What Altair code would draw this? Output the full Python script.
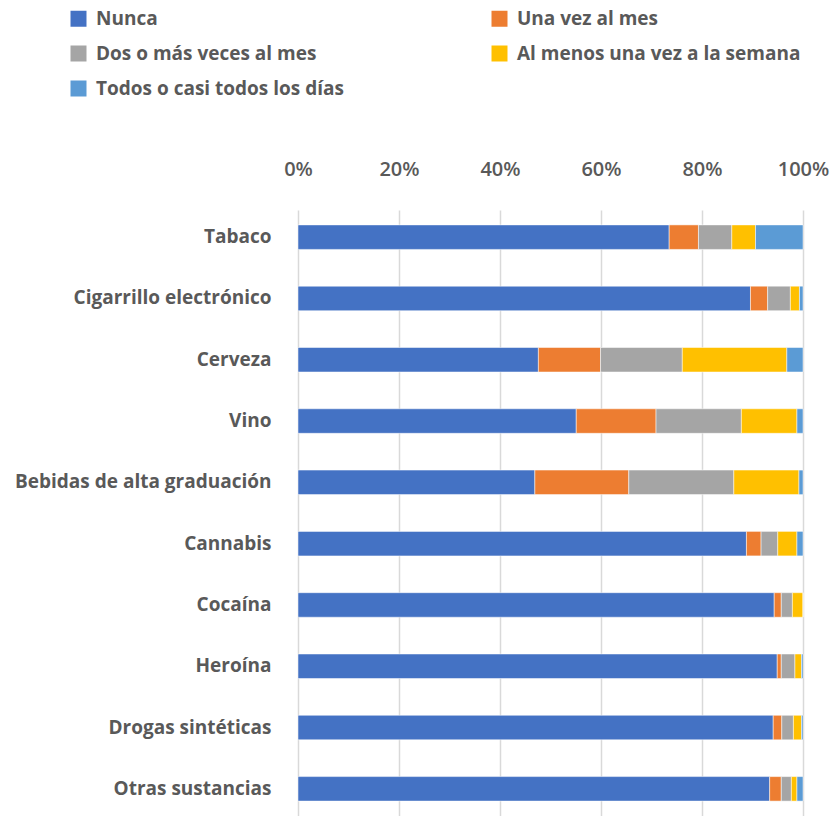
import altair as alt
import pandas as pd

categories = ["Tabaco", "Cigarrillo electrónico", "Cerveza", "Vino",
              "Bebidas de alta graduación", "Cannabis", "Cocaína", "Heroína",
              "Drogas sintéticas", "Otras sustancias"]
series = ["Nunca", "Una vez al mes", "Dos o más veces al mes",
          "Al menos una vez a la semana", "Todos o casi todos los días"]
colors = ["#4472C4", "#ED7D31", "#A5A5A5", "#FFC000", "#5B9BD5"]

nunca = [73.5, 89.6, 47.6, 55.1, 46.9, 88.8, 94.3, 94.9, 94.1, 93.4]
una_vez = [5.8, 3.4, 12.3, 15.8, 18.6, 2.9, 1.4, 0.8, 1.7, 2.3]
dos_mas = [6.6, 4.5, 16.2, 16.9, 20.8, 3.3, 2.2, 2.7, 2.3, 2.0]
semana = [4.7, 1.8, 20.7, 11.0, 12.9, 3.8, 2.1, 1.3, 1.6, 1.1]
diario = [9.4, 0.7, 3.2, 1.2, 0.8, 1.2, 0.0, 0.3, 0.3, 1.2]

values = [nunca, una_vez, dos_mas, semana, diario]
rows = []
for si, (s, vals) in enumerate(zip(series, values)):
    for c, v in zip(categories, vals):
        rows.append({"cat": c, "serie": s, "idx": si, "val": v / 100.0})
df = pd.DataFrame(rows)

FONT = "Open Sans"
GREY = "#595959"

chart = alt.Chart(df).mark_bar(stroke="white", strokeWidth=0.5).encode(
    y=alt.Y("cat:N", sort=categories, title=None,
            scale=alt.Scale(paddingInner=0.6, paddingOuter=0.243),
            axis=alt.Axis(labelFont=FONT, labelFontSize=19, labelFontWeight="bold",
                          labelColor=GREY, labelPadding=27, ticks=False,
                          domain=False, grid=False, labelLimit=400)),
    x=alt.X("val:Q", stack="zero", title=None,
            scale=alt.Scale(domain=[0, 1], nice=False),
            axis=alt.Axis(orient="top", format=".0%", values=[0, 0.2, 0.4, 0.6, 0.8, 1.0],
                          labelFont=FONT, labelFontSize=20, labelFontWeight=600,
                          labelColor=GREY, labelPadding=31, ticks=False, domain=False,
                          grid=True, gridColor="#d9d9d9", gridWidth=1.5,
                          labelFlush=False)),
    color=alt.Color("serie:N", title=None,
                    scale=alt.Scale(domain=series, range=colors),
                    legend=alt.Legend(orient="none", legendX=-229, legendY=-201,
                                      direction="horizontal",
                                      columns=2, columnPadding=146, rowPadding=15,
                                      symbolType="square", symbolSize=256,
                                      symbolStrokeWidth=0, labelOffset=8,
                                      labelFont=FONT, labelFontSize=19,
                                      labelFontWeight="bold", labelColor=GREY,
                                      labelLimit=400, padding=0)),
    order=alt.Order("idx:Q", sort="ascending"),
).properties(
    width=505, height=606,
    autosize=alt.AutoSizeParams(type="none"),
    padding={"left": 298, "top": 210, "right": 27, "bottom": 0},
).configure_view(stroke=None)

chart.save("out.html", embed_options={"renderer": "svg", "actions": False})
